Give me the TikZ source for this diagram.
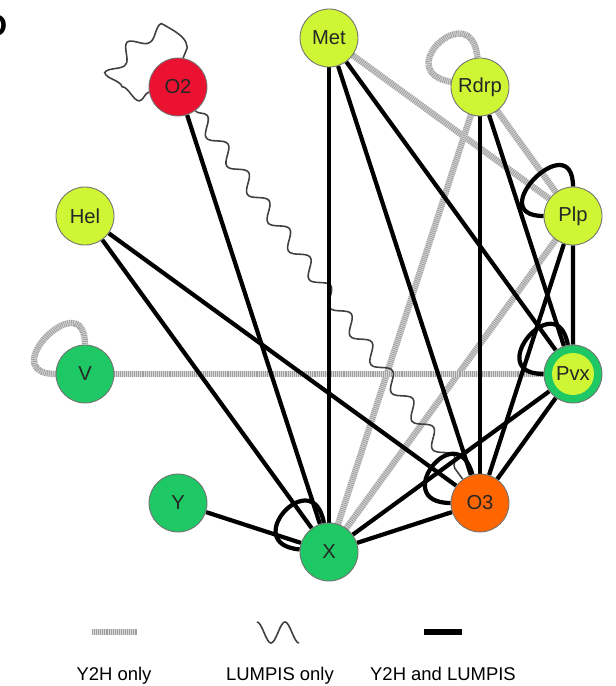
\documentclass[tikz,border=0pt]{standalone}
\usepackage{fontspec}
\setmainfont{Liberation Sans}
\usetikzlibrary{backgrounds,decorations.pathmorphing}
\definecolor{limeprot}{RGB}{206,246,52}
\definecolor{redprot}{RGB}{234,18,48}
\definecolor{greenprot}{RGB}{30,200,100}
\definecolor{orangeprot}{RGB}{255,102,0}

\begin{document}
\begin{tikzpicture}[scale=0.2]
\tikzstyle{every node}+=[inner sep=0pt]
\tikzstyle{prot}=[circle, draw=black!55, line width=0.5pt, minimum size=1.16cm, font=\fontsize{11.5}{13}\selectfont, text=black!85]
\tikzstyle{both}=[black, line width=2.4pt]
\tikzstyle{y2h}=[draw=gray!75, line width=3.6pt, dash pattern=on 0.5pt off 0.6pt, preaction={draw=gray!30, solid, line width=3.6pt}]
\tikzstyle{lumpis}=[draw=black!75, line width=0.9pt, decorate, decoration={snake, amplitude=0.14cm, segment length=0.7cm}]
\tikzstyle{legtext}=[anchor=base, font=\fontsize{10.5}{12}\selectfont]
\useasboundingbox (0,0) rectangle (61.5,-68.6);
% panel letter
\node [anchor=east, font=\fontsize{18}{18}\selectfont\bfseries] (panel) at (0.75,-2.6) {D};
% proteins
\node [prot, fill=limeprot] (met) at (32.9,-3.8) {Met};
\node [prot, fill=redprot] (o2) at (17.8,-8.7) {O2};
\node [prot, fill=limeprot] (hel) at (8.5,-21.6) {Hel};
\node [prot, fill=greenprot] (v) at (8.5,-37.4) {V};
\node [prot, fill=greenprot] (y) at (17.8,-50.3) {Y};
\node [prot, fill=greenprot] (x) at (32.9,-55.2) {X};
\node [prot, fill=orangeprot] (o3) at (48.0,-50.3) {O3};
\node [prot, fill=greenprot, path picture={\fill [limeprot] (path picture bounding box.center) circle (0.42cm);}] (pvx) at (57.3,-37.4) {Pvx};
\node [prot, fill=limeprot] (plp) at (57.3,-21.6) {Plp};
\node [prot, fill=limeprot] (rdrp) at (48.0,-8.7) {Rdrp};
\begin{scope}[on background layer]
% Y2H only
\draw [y2h] (met) -- (plp);
\draw [y2h] (rdrp) -- (plp);
\draw [y2h] (rdrp) -- (x);
\draw [y2h] (plp) -- (x);
\draw [y2h] (v) -- (pvx);
\draw [y2h] (rdrp) to [out=170, in=95, min distance=62mm] (rdrp);
\draw [y2h] (v) to [out=180, in=90, min distance=62mm] (v);
% LUMPIS only
\draw [lumpis] (o2) -- (o3);
\draw [lumpis] (o2) to [out=190, in=80, min distance=78mm] (o2);
% Y2H and LUMPIS
\draw [both] (o2) -- (x);
\draw [both] (met) -- (x);
\draw [both] (met) -- (o3);
\draw [both] (met) -- (pvx);
\draw [both] (hel) -- (x);
\draw [both] (hel) -- (o3);
\draw [both] (rdrp) -- (o3);
\draw [both] (rdrp) -- (pvx);
\draw [both] (plp) -- (pvx);
\draw [both] (plp) -- (o3);
\draw [both] (pvx) -- (o3);
\draw [both] (pvx) -- (x);
\draw [both] (o3) -- (x);
\draw [both] (y) -- (x);
\draw [both] (x) to [out=175, in=100, min distance=62mm] (x);
\draw [both] (o3) to [out=180, in=105, min distance=62mm] (o3);
\draw [both] (pvx) to [out=180, in=100, min distance=62mm] (pvx);
\draw [both] (plp) to [out=180, in=90, min distance=62mm] (plp);
\end{scope}
% legend
\coordinate (y2hA) at (9.2,-63.2);
\coordinate (y2hB) at (13.7,-63.2);
\draw [y2h] (y2hA) -- (y2hB);
\coordinate (waveA) at (25.7,-62.2);
\draw [black!75, line width=0.9pt] (waveA) cos ++(0.7,-1.05) sin ++(0.7,-1.05) cos ++(0.7,1.05) sin ++(0.7,1.05) cos ++(0.7,-1.05) sin ++(0.7,-1.05);
\coordinate (barA) at (42.4,-63.2);
\coordinate (barB) at (46.2,-63.2);
\draw [black, line width=3.6pt] (barA) -- (barB);
\node [legtext] (legy2h) at (11.4,-68.0) {Y2H only};
\node [legtext] (leglum) at (28.0,-68.0) {LUMPIS only};
\node [legtext] (legboth) at (44.3,-68.0) {Y2H and LUMPIS};
\end{tikzpicture}
\end{document}
